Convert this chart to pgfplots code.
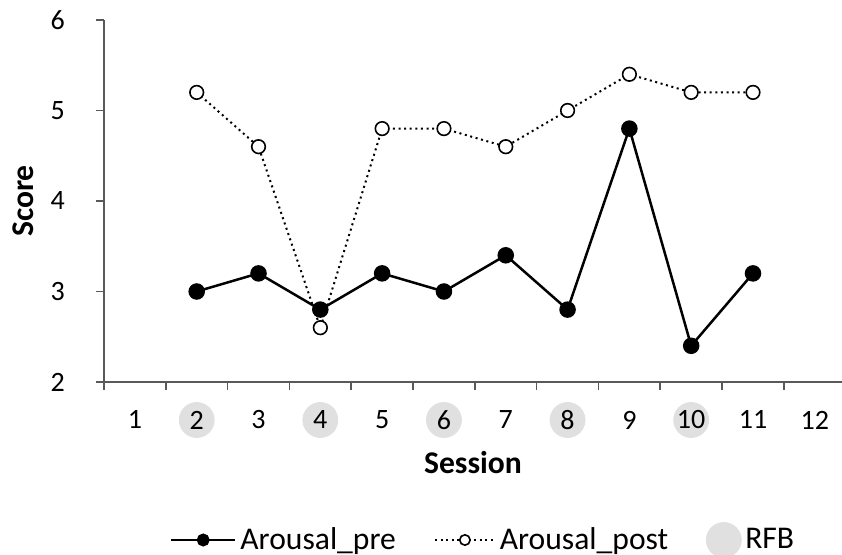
\documentclass[border=0pt]{standalone}
\usepackage{pgfplots}
\pgfplotsset{compat=1.18}
\usepackage{fontspec}
\setmainfont{Carlito}
\definecolor{rfbgray}{RGB}{224,224,224}
\definecolor{axisgray}{RGB}{89,89,89}

\begin{document}
\begin{tikzpicture}
\begin{axis}[
    at={(0,0)}, anchor=south west,
    scale only axis,
    width=369pt, height=181pt,
    xmin=0.5, xmax=12.44,
    ymin=2, ymax=6,
    clip=false,
    set layers,
    axis x line*=bottom,
    axis y line*=left,
    axis line style={axisgray, line width=0.8pt, -},
    xtick={1,...,12},
    minor xtick={0.5,1.5,...,11.5},
    ytick={2,3,4,5,6},
    tick align=outside,
    major tick length=4pt,
    minor tick length=4pt,
    major x tick style={draw=none},
    minor x tick style={axisgray, line width=0.8pt},
    y tick style={axisgray, line width=0.8pt},
    tick label style={font=\fontsize{14}{16}\selectfont},
    /pgf/number format/assume math mode=true,
    xticklabel style={anchor=center, yshift=-15pt},
    yticklabel style={anchor=east, xshift=-12pt},
    xlabel={\textbf{Session}},
    ylabel={\textbf{Score}},
    label style={font=\fontsize{15.8}{18}\selectfont},
    xlabel style={at={(axis description cs:0.5,0)}, anchor=center, yshift=-40.5pt},
    ylabel style={at={(axis description cs:-0.1098,0.5)}, anchor=center},
    legend style={
        at={(axis description cs:0.515,0)}, anchor=center, yshift=-79pt,
        draw=none, fill=none,
        legend columns=3,
        font=\fontsize{15.8}{18}\selectfont,
        /tikz/every even column/.append style={column sep=17pt},
    },
    legend cell align=left,
]

% Arousal_pre
\addplot[black, line width=1.25pt, mark=*, mark size=3.5pt,
    legend image code/.code={\draw[mark repeat=2, mark phase=2, mark size=2.6pt]
        plot coordinates {(0pt,0pt)(16pt,0pt)(32pt,0pt)};}]
    coordinates {(2,3.0)(3,3.2)(4,2.8)(5,3.2)(6,3.0)(7,3.4)(8,2.8)(9,4.8)(10,2.4)(11,3.2)};
\addlegendentry{Arousal\_pre}

% Arousal_post
\addplot[black, line width=1pt, dash pattern=on 1pt off 1.8pt,
    mark=*, mark size=3.4pt, mark options={solid, fill=white, line width=0.8pt},
    legend image code/.code={\draw[mark repeat=2, mark phase=2, mark size=2.6pt]
        plot coordinates {(0pt,0pt)(15pt,0pt)(30pt,0pt)};}]
    coordinates {(2,5.2)(3,4.6)(4,2.6)(5,4.8)(6,4.8)(7,4.6)(8,5.0)(9,5.4)(10,5.2)(11,5.2)};
\addlegendentry{Arousal\_post}

% RFB sessions (behind the tick labels)
\addplot[on layer=axis background, mark layer=axis background,
    only marks, mark=*, mark size=8.75pt,
    mark options={fill=rfbgray, draw=rfbgray},
    legend image code/.code={\draw[only marks, mark=*, mark size=8.75pt, mark options={fill=rfbgray, draw=rfbgray}]
        plot coordinates {(8pt,0pt)};}]
    coordinates {(2,1.58)(4,1.58)(6,1.58)(8,1.58)(10,1.58)};
\addlegendentry{RFB}

\end{axis}
\pgfresetboundingbox
\useasboundingbox (-52pt,-86.5pt) rectangle (369pt,191pt);
\end{tikzpicture}
\end{document}
